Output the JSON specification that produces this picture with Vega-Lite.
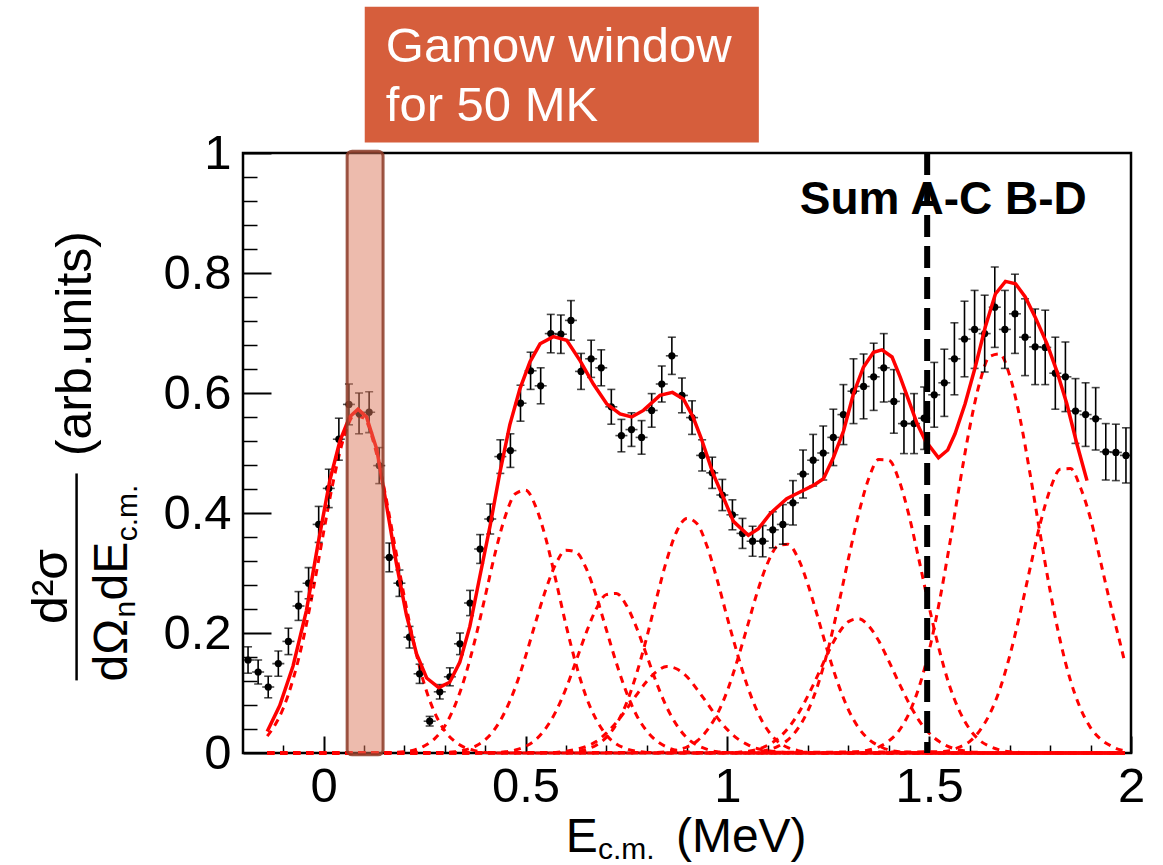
{
  "$schema": "https://vega.github.io/schema/vega-lite/v6.json",
  "width": 888,
  "height": 600,
  "autosize": {"type": "none"},
  "padding": {"left": 243, "top": 153, "right": 32, "bottom": 112},
  "background": "white",
  "config": {
    "view": {"stroke": "black", "strokeWidth": 2.5},
    "text": {"font": "Liberation Sans"}
  },
  "datasets": {
    "pts": [
      {"E": -0.1875, "y": 0.155, "err": 0.022}, {"E": -0.1625, "y": 0.135, "err": 0.02}, {"E": -0.1375, "y": 0.110, "err": 0.018},
      {"E": -0.1125, "y": 0.149, "err": 0.021}, {"E": -0.0875, "y": 0.186, "err": 0.022}, {"E": -0.0625, "y": 0.245, "err": 0.024},
      {"E": -0.0375, "y": 0.283, "err": 0.026}, {"E": -0.0125, "y": 0.381, "err": 0.03}, {"E": 0.0125, "y": 0.441, "err": 0.032},
      {"E": 0.0375, "y": 0.523, "err": 0.035}, {"E": 0.0625, "y": 0.581, "err": 0.034}, {"E": 0.0875, "y": 0.566, "err": 0.034},
      {"E": 0.1125, "y": 0.568, "err": 0.034}, {"E": 0.1375, "y": 0.479, "err": 0.03}, {"E": 0.1625, "y": 0.326, "err": 0.024},
      {"E": 0.1875, "y": 0.283, "err": 0.022}, {"E": 0.2125, "y": 0.193, "err": 0.018}, {"E": 0.2375, "y": 0.132, "err": 0.016},
      {"E": 0.2625, "y": 0.053, "err": 0.008}, {"E": 0.2875, "y": 0.102, "err": 0.012}, {"E": 0.3125, "y": 0.127, "err": 0.015},
      {"E": 0.3375, "y": 0.182, "err": 0.018}, {"E": 0.3625, "y": 0.250, "err": 0.021}, {"E": 0.3875, "y": 0.340, "err": 0.024},
      {"E": 0.4125, "y": 0.390, "err": 0.025}, {"E": 0.4375, "y": 0.494, "err": 0.028}, {"E": 0.4625, "y": 0.504, "err": 0.028},
      {"E": 0.4875, "y": 0.583, "err": 0.03}, {"E": 0.5125, "y": 0.637, "err": 0.031}, {"E": 0.5375, "y": 0.612, "err": 0.03},
      {"E": 0.5625, "y": 0.699, "err": 0.032}, {"E": 0.5875, "y": 0.698, "err": 0.032}, {"E": 0.6125, "y": 0.721, "err": 0.033},
      {"E": 0.6375, "y": 0.636, "err": 0.03}, {"E": 0.6625, "y": 0.657, "err": 0.031}, {"E": 0.6875, "y": 0.642, "err": 0.03},
      {"E": 0.7125, "y": 0.577, "err": 0.029}, {"E": 0.7375, "y": 0.529, "err": 0.027}, {"E": 0.7625, "y": 0.539, "err": 0.028},
      {"E": 0.7875, "y": 0.526, "err": 0.028}, {"E": 0.8125, "y": 0.571, "err": 0.028}, {"E": 0.8375, "y": 0.615, "err": 0.03},
      {"E": 0.8625, "y": 0.662, "err": 0.031}, {"E": 0.8875, "y": 0.596, "err": 0.029}, {"E": 0.9125, "y": 0.559, "err": 0.028},
      {"E": 0.9375, "y": 0.496, "err": 0.026}, {"E": 0.9625, "y": 0.467, "err": 0.026}, {"E": 0.9875, "y": 0.430, "err": 0.026},
      {"E": 1.0125, "y": 0.397, "err": 0.025}, {"E": 1.0375, "y": 0.366, "err": 0.025}, {"E": 1.0625, "y": 0.353, "err": 0.025},
      {"E": 1.0875, "y": 0.353, "err": 0.026}, {"E": 1.1125, "y": 0.372, "err": 0.03}, {"E": 1.1375, "y": 0.381, "err": 0.033},
      {"E": 1.1625, "y": 0.417, "err": 0.037}, {"E": 1.1875, "y": 0.465, "err": 0.04}, {"E": 1.2125, "y": 0.488, "err": 0.043},
      {"E": 1.2375, "y": 0.500, "err": 0.045}, {"E": 1.2625, "y": 0.526, "err": 0.047}, {"E": 1.2875, "y": 0.564, "err": 0.05},
      {"E": 1.3125, "y": 0.603, "err": 0.054}, {"E": 1.3375, "y": 0.611, "err": 0.054}, {"E": 1.3625, "y": 0.627, "err": 0.056},
      {"E": 1.3875, "y": 0.642, "err": 0.057}, {"E": 1.4125, "y": 0.586, "err": 0.053}, {"E": 1.4375, "y": 0.549, "err": 0.05},
      {"E": 1.4625, "y": 0.549, "err": 0.05}, {"E": 1.4875, "y": 0.558, "err": 0.052}, {"E": 1.5125, "y": 0.597, "err": 0.054},
      {"E": 1.5375, "y": 0.617, "err": 0.056}, {"E": 1.5625, "y": 0.657, "err": 0.06}, {"E": 1.5875, "y": 0.690, "err": 0.063},
      {"E": 1.6125, "y": 0.706, "err": 0.065}, {"E": 1.6375, "y": 0.699, "err": 0.064}, {"E": 1.6625, "y": 0.743, "err": 0.067},
      {"E": 1.6875, "y": 0.706, "err": 0.065}, {"E": 1.7125, "y": 0.732, "err": 0.066}, {"E": 1.7375, "y": 0.693, "err": 0.064},
      {"E": 1.7625, "y": 0.677, "err": 0.063}, {"E": 1.7875, "y": 0.676, "err": 0.062}, {"E": 1.8125, "y": 0.633, "err": 0.06},
      {"E": 1.8375, "y": 0.627, "err": 0.058}, {"E": 1.8625, "y": 0.570, "err": 0.054}, {"E": 1.8875, "y": 0.564, "err": 0.053},
      {"E": 1.9125, "y": 0.557, "err": 0.052}, {"E": 1.9375, "y": 0.502, "err": 0.047}, {"E": 1.9625, "y": 0.501, "err": 0.047},
      {"E": 1.9875, "y": 0.496, "err": 0.046}
    ],
    "fit": [
      {"E": -0.140, "v": 0.036}, {"E": -0.109, "v": 0.079}, {"E": -0.076, "v": 0.145}, {"E": -0.043, "v": 0.237},
      {"E": -0.014, "v": 0.349}, {"E": 0.015, "v": 0.454}, {"E": 0.040, "v": 0.520}, {"E": 0.064, "v": 0.560},
      {"E": 0.085, "v": 0.573}, {"E": 0.106, "v": 0.560}, {"E": 0.131, "v": 0.507}, {"E": 0.155, "v": 0.415},
      {"E": 0.180, "v": 0.316}, {"E": 0.205, "v": 0.230}, {"E": 0.230, "v": 0.165}, {"E": 0.255, "v": 0.125},
      {"E": 0.285, "v": 0.109}, {"E": 0.312, "v": 0.118}, {"E": 0.337, "v": 0.151}, {"E": 0.362, "v": 0.211},
      {"E": 0.387, "v": 0.295}, {"E": 0.412, "v": 0.378}, {"E": 0.436, "v": 0.466}, {"E": 0.461, "v": 0.547},
      {"E": 0.486, "v": 0.607}, {"E": 0.511, "v": 0.652}, {"E": 0.536, "v": 0.682}, {"E": 0.569, "v": 0.694},
      {"E": 0.602, "v": 0.688}, {"E": 0.635, "v": 0.654}, {"E": 0.668, "v": 0.615}, {"E": 0.701, "v": 0.582},
      {"E": 0.734, "v": 0.565}, {"E": 0.763, "v": 0.560}, {"E": 0.792, "v": 0.571}, {"E": 0.833, "v": 0.596},
      {"E": 0.864, "v": 0.601}, {"E": 0.891, "v": 0.590}, {"E": 0.915, "v": 0.560}, {"E": 0.935, "v": 0.525},
      {"E": 0.965, "v": 0.465}, {"E": 0.990, "v": 0.426}, {"E": 1.015, "v": 0.386}, {"E": 1.052, "v": 0.363},
      {"E": 1.077, "v": 0.374}, {"E": 1.106, "v": 0.399}, {"E": 1.147, "v": 0.424}, {"E": 1.180, "v": 0.435},
      {"E": 1.213, "v": 0.446}, {"E": 1.238, "v": 0.457}, {"E": 1.263, "v": 0.493}, {"E": 1.288, "v": 0.537},
      {"E": 1.312, "v": 0.598}, {"E": 1.337, "v": 0.643}, {"E": 1.362, "v": 0.668}, {"E": 1.383, "v": 0.672},
      {"E": 1.408, "v": 0.660}, {"E": 1.428, "v": 0.627}, {"E": 1.449, "v": 0.588}, {"E": 1.470, "v": 0.549},
      {"E": 1.490, "v": 0.521}, {"E": 1.523, "v": 0.492}, {"E": 1.546, "v": 0.505}, {"E": 1.564, "v": 0.532},
      {"E": 1.589, "v": 0.582}, {"E": 1.614, "v": 0.643}, {"E": 1.639, "v": 0.710}, {"E": 1.664, "v": 0.765},
      {"E": 1.689, "v": 0.786}, {"E": 1.714, "v": 0.782}, {"E": 1.738, "v": 0.760}, {"E": 1.763, "v": 0.726},
      {"E": 1.792, "v": 0.682}, {"E": 1.816, "v": 0.637}, {"E": 1.841, "v": 0.582}, {"E": 1.866, "v": 0.515},
      {"E": 1.891, "v": 0.454}
    ],
    "comp": [
      {"g": "1", "E": -0.14, "v": 0.028}, {"g": "1", "E": -0.125, "v": 0.042}, {"g": "1", "E": -0.1, "v": 0.075},
      {"g": "1", "E": -0.075, "v": 0.125}, {"g": "1", "E": -0.05, "v": 0.192}, {"g": "1", "E": -0.025, "v": 0.276},
      {"g": "1", "E": 0.0, "v": 0.369}, {"g": "1", "E": 0.025, "v": 0.457}, {"g": "1", "E": 0.05, "v": 0.526},
      {"g": "1", "E": 0.075, "v": 0.562}, {"g": "1", "E": 0.1, "v": 0.558}, {"g": "1", "E": 0.125, "v": 0.514},
      {"g": "1", "E": 0.15, "v": 0.440}, {"g": "1", "E": 0.175, "v": 0.350}, {"g": "1", "E": 0.2, "v": 0.259},
      {"g": "1", "E": 0.225, "v": 0.178}, {"g": "1", "E": 0.25, "v": 0.113}, {"g": "1", "E": 0.275, "v": 0.067},
      {"g": "1", "E": 0.3, "v": 0.037}, {"g": "1", "E": 0.325, "v": 0.019}, {"g": "1", "E": 0.35, "v": 0.009},
      {"g": "1", "E": 0.375, "v": 0.004}, {"g": "1", "E": 0.4, "v": 0.001}, {"g": "1", "E": 0.425, "v": 0},
      {"g": "1", "E": 1.985, "v": 0},

      {"g": "2", "E": -0.14, "v": 0}, {"g": "2", "E": 0.175, "v": 0.001}, {"g": "2", "E": 0.2, "v": 0.002},
      {"g": "2", "E": 0.225, "v": 0.005}, {"g": "2", "E": 0.25, "v": 0.012}, {"g": "2", "E": 0.275, "v": 0.024},
      {"g": "2", "E": 0.3, "v": 0.045}, {"g": "2", "E": 0.325, "v": 0.079}, {"g": "2", "E": 0.35, "v": 0.127},
      {"g": "2", "E": 0.375, "v": 0.189}, {"g": "2", "E": 0.4, "v": 0.261}, {"g": "2", "E": 0.425, "v": 0.334},
      {"g": "2", "E": 0.45, "v": 0.395}, {"g": "2", "E": 0.475, "v": 0.432}, {"g": "2", "E": 0.5, "v": 0.438},
      {"g": "2", "E": 0.525, "v": 0.411}, {"g": "2", "E": 0.55, "v": 0.358}, {"g": "2", "E": 0.575, "v": 0.288},
      {"g": "2", "E": 0.6, "v": 0.214}, {"g": "2", "E": 0.625, "v": 0.148}, {"g": "2", "E": 0.65, "v": 0.094},
      {"g": "2", "E": 0.675, "v": 0.056}, {"g": "2", "E": 0.7, "v": 0.030}, {"g": "2", "E": 0.725, "v": 0.015},
      {"g": "2", "E": 0.75, "v": 0.007}, {"g": "2", "E": 0.775, "v": 0.003}, {"g": "2", "E": 0.8, "v": 0.001},
      {"g": "2", "E": 0.825, "v": 0}, {"g": "2", "E": 1.985, "v": 0},

      {"g": "3", "E": -0.14, "v": 0}, {"g": "3", "E": 0.3, "v": 0.001}, {"g": "3", "E": 0.325, "v": 0.002},
      {"g": "3", "E": 0.35, "v": 0.005}, {"g": "3", "E": 0.375, "v": 0.011}, {"g": "3", "E": 0.4, "v": 0.022},
      {"g": "3", "E": 0.425, "v": 0.041}, {"g": "3", "E": 0.45, "v": 0.070}, {"g": "3", "E": 0.475, "v": 0.110},
      {"g": "3", "E": 0.5, "v": 0.161}, {"g": "3", "E": 0.525, "v": 0.218}, {"g": "3", "E": 0.55, "v": 0.272},
      {"g": "3", "E": 0.575, "v": 0.315}, {"g": "3", "E": 0.6, "v": 0.338}, {"g": "3", "E": 0.625, "v": 0.335},
      {"g": "3", "E": 0.65, "v": 0.308}, {"g": "3", "E": 0.675, "v": 0.262}, {"g": "3", "E": 0.7, "v": 0.206},
      {"g": "3", "E": 0.725, "v": 0.150}, {"g": "3", "E": 0.75, "v": 0.101}, {"g": "3", "E": 0.775, "v": 0.063},
      {"g": "3", "E": 0.8, "v": 0.037}, {"g": "3", "E": 0.825, "v": 0.020}, {"g": "3", "E": 0.85, "v": 0.010},
      {"g": "3", "E": 0.875, "v": 0.004}, {"g": "3", "E": 0.9, "v": 0.002}, {"g": "3", "E": 0.925, "v": 0},
      {"g": "3", "E": 1.985, "v": 0},

      {"g": "4", "E": -0.14, "v": 0}, {"g": "4", "E": 0.425, "v": 0.001}, {"g": "4", "E": 0.45, "v": 0.002},
      {"g": "4", "E": 0.475, "v": 0.005}, {"g": "4", "E": 0.5, "v": 0.011}, {"g": "4", "E": 0.525, "v": 0.022},
      {"g": "4", "E": 0.55, "v": 0.041}, {"g": "4", "E": 0.575, "v": 0.069}, {"g": "4", "E": 0.6, "v": 0.107},
      {"g": "4", "E": 0.625, "v": 0.153}, {"g": "4", "E": 0.65, "v": 0.200}, {"g": "4", "E": 0.675, "v": 0.240},
      {"g": "4", "E": 0.7, "v": 0.264}, {"g": "4", "E": 0.725, "v": 0.266}, {"g": "4", "E": 0.75, "v": 0.246},
      {"g": "4", "E": 0.775, "v": 0.209}, {"g": "4", "E": 0.8, "v": 0.163}, {"g": "4", "E": 0.825, "v": 0.116},
      {"g": "4", "E": 0.85, "v": 0.076}, {"g": "4", "E": 0.875, "v": 0.046}, {"g": "4", "E": 0.9, "v": 0.025},
      {"g": "4", "E": 0.925, "v": 0.013}, {"g": "4", "E": 0.95, "v": 0.006}, {"g": "4", "E": 0.975, "v": 0.002},
      {"g": "4", "E": 1.0, "v": 0.001}, {"g": "4", "E": 1.025, "v": 0}, {"g": "4", "E": 1.985, "v": 0},

      {"g": "5", "E": -0.14, "v": 0}, {"g": "5", "E": 0.575, "v": 0.001}, {"g": "5", "E": 0.6, "v": 0.003},
      {"g": "5", "E": 0.625, "v": 0.006}, {"g": "5", "E": 0.65, "v": 0.011}, {"g": "5", "E": 0.675, "v": 0.019},
      {"g": "5", "E": 0.7, "v": 0.033}, {"g": "5", "E": 0.725, "v": 0.051}, {"g": "5", "E": 0.75, "v": 0.073},
      {"g": "5", "E": 0.775, "v": 0.097}, {"g": "5", "E": 0.8, "v": 0.119}, {"g": "5", "E": 0.825, "v": 0.136},
      {"g": "5", "E": 0.85, "v": 0.144}, {"g": "5", "E": 0.875, "v": 0.140}, {"g": "5", "E": 0.9, "v": 0.127},
      {"g": "5", "E": 0.925, "v": 0.106}, {"g": "5", "E": 0.95, "v": 0.083}, {"g": "5", "E": 0.975, "v": 0.059},
      {"g": "5", "E": 1.0, "v": 0.039}, {"g": "5", "E": 1.025, "v": 0.024}, {"g": "5", "E": 1.05, "v": 0.014},
      {"g": "5", "E": 1.075, "v": 0.007}, {"g": "5", "E": 1.1, "v": 0.004}, {"g": "5", "E": 1.125, "v": 0.002},
      {"g": "5", "E": 1.15, "v": 0.001}, {"g": "5", "E": 1.175, "v": 0}, {"g": "5", "E": 1.985, "v": 0},

      {"g": "6", "E": -0.14, "v": 0}, {"g": "6", "E": 0.6, "v": 0.001}, {"g": "6", "E": 0.625, "v": 0.002},
      {"g": "6", "E": 0.65, "v": 0.006}, {"g": "6", "E": 0.675, "v": 0.013}, {"g": "6", "E": 0.7, "v": 0.026},
      {"g": "6", "E": 0.725, "v": 0.048}, {"g": "6", "E": 0.75, "v": 0.083}, {"g": "6", "E": 0.775, "v": 0.132},
      {"g": "6", "E": 0.8, "v": 0.192}, {"g": "6", "E": 0.825, "v": 0.259}, {"g": "6", "E": 0.85, "v": 0.322},
      {"g": "6", "E": 0.875, "v": 0.370}, {"g": "6", "E": 0.9, "v": 0.391}, {"g": "6", "E": 0.925, "v": 0.382},
      {"g": "6", "E": 0.95, "v": 0.344}, {"g": "6", "E": 0.975, "v": 0.288}, {"g": "6", "E": 1.0, "v": 0.225},
      {"g": "6", "E": 1.025, "v": 0.165}, {"g": "6", "E": 1.05, "v": 0.111}, {"g": "6", "E": 1.075, "v": 0.068},
      {"g": "6", "E": 1.1, "v": 0.038}, {"g": "6", "E": 1.125, "v": 0.019}, {"g": "6", "E": 1.15, "v": 0.009},
      {"g": "6", "E": 1.175, "v": 0.004}, {"g": "6", "E": 1.2, "v": 0.001}, {"g": "6", "E": 1.225, "v": 0},
      {"g": "6", "E": 1.985, "v": 0},

      {"g": "7", "E": -0.14, "v": 0}, {"g": "7", "E": 0.825, "v": 0.001}, {"g": "7", "E": 0.85, "v": 0.002},
      {"g": "7", "E": 0.875, "v": 0.005}, {"g": "7", "E": 0.9, "v": 0.010}, {"g": "7", "E": 0.925, "v": 0.020},
      {"g": "7", "E": 0.95, "v": 0.038}, {"g": "7", "E": 0.975, "v": 0.065}, {"g": "7", "E": 1.0, "v": 0.104},
      {"g": "7", "E": 1.025, "v": 0.155}, {"g": "7", "E": 1.05, "v": 0.212}, {"g": "7", "E": 1.075, "v": 0.270},
      {"g": "7", "E": 1.1, "v": 0.317}, {"g": "7", "E": 1.125, "v": 0.345}, {"g": "7", "E": 1.15, "v": 0.348},
      {"g": "7", "E": 1.175, "v": 0.325}, {"g": "7", "E": 1.2, "v": 0.280}, {"g": "7", "E": 1.225, "v": 0.224},
      {"g": "7", "E": 1.25, "v": 0.166}, {"g": "7", "E": 1.275, "v": 0.114}, {"g": "7", "E": 1.3, "v": 0.072},
      {"g": "7", "E": 1.325, "v": 0.042}, {"g": "7", "E": 1.35, "v": 0.023}, {"g": "7", "E": 1.375, "v": 0.012},
      {"g": "7", "E": 1.4, "v": 0.005}, {"g": "7", "E": 1.425, "v": 0.002}, {"g": "7", "E": 1.45, "v": 0.001},
      {"g": "7", "E": 1.475, "v": 0}, {"g": "7", "E": 1.985, "v": 0},

      {"g": "8", "E": -0.14, "v": 0}, {"g": "8", "E": 1.025, "v": 0.001}, {"g": "8", "E": 1.05, "v": 0.003},
      {"g": "8", "E": 1.075, "v": 0.006}, {"g": "8", "E": 1.1, "v": 0.013}, {"g": "8", "E": 1.125, "v": 0.024},
      {"g": "8", "E": 1.15, "v": 0.041}, {"g": "8", "E": 1.175, "v": 0.065}, {"g": "8", "E": 1.2, "v": 0.096},
      {"g": "8", "E": 1.225, "v": 0.131}, {"g": "8", "E": 1.25, "v": 0.168}, {"g": "8", "E": 1.275, "v": 0.199},
      {"g": "8", "E": 1.3, "v": 0.219}, {"g": "8", "E": 1.325, "v": 0.224}, {"g": "8", "E": 1.35, "v": 0.212},
      {"g": "8", "E": 1.375, "v": 0.187}, {"g": "8", "E": 1.4, "v": 0.153}, {"g": "8", "E": 1.425, "v": 0.117},
      {"g": "8", "E": 1.45, "v": 0.083}, {"g": "8", "E": 1.475, "v": 0.054}, {"g": "8", "E": 1.5, "v": 0.033},
      {"g": "8", "E": 1.525, "v": 0.019}, {"g": "8", "E": 1.55, "v": 0.010}, {"g": "8", "E": 1.575, "v": 0.005},
      {"g": "8", "E": 1.6, "v": 0.002}, {"g": "8", "E": 1.625, "v": 0.001}, {"g": "8", "E": 1.65, "v": 0},
      {"g": "8", "E": 1.985, "v": 0},

      {"g": "9", "E": -0.14, "v": 0}, {"g": "9", "E": 1.05, "v": 0.001}, {"g": "9", "E": 1.075, "v": 0.002},
      {"g": "9", "E": 1.1, "v": 0.005}, {"g": "9", "E": 1.125, "v": 0.011}, {"g": "9", "E": 1.15, "v": 0.022},
      {"g": "9", "E": 1.175, "v": 0.041}, {"g": "9", "E": 1.2, "v": 0.071}, {"g": "9", "E": 1.225, "v": 0.115},
      {"g": "9", "E": 1.25, "v": 0.174}, {"g": "9", "E": 1.275, "v": 0.246}, {"g": "9", "E": 1.3, "v": 0.324},
      {"g": "9", "E": 1.325, "v": 0.398}, {"g": "9", "E": 1.35, "v": 0.457}, {"g": "9", "E": 1.375, "v": 0.489},
      {"g": "9", "E": 1.4, "v": 0.488}, {"g": "9", "E": 1.425, "v": 0.455}, {"g": "9", "E": 1.45, "v": 0.396},
      {"g": "9", "E": 1.475, "v": 0.321}, {"g": "9", "E": 1.5, "v": 0.243}, {"g": "9", "E": 1.525, "v": 0.172},
      {"g": "9", "E": 1.55, "v": 0.113}, {"g": "9", "E": 1.575, "v": 0.070}, {"g": "9", "E": 1.6, "v": 0.040},
      {"g": "9", "E": 1.625, "v": 0.021}, {"g": "9", "E": 1.65, "v": 0.011}, {"g": "9", "E": 1.675, "v": 0.005},
      {"g": "9", "E": 1.7, "v": 0.002}, {"g": "9", "E": 1.725, "v": 0.001}, {"g": "9", "E": 1.75, "v": 0},
      {"g": "9", "E": 1.985, "v": 0},

      {"g": "10", "E": -0.14, "v": 0}, {"g": "10", "E": 1.3, "v": 0.001}, {"g": "10", "E": 1.325, "v": 0.002},
      {"g": "10", "E": 1.35, "v": 0.005}, {"g": "10", "E": 1.375, "v": 0.010}, {"g": "10", "E": 1.4, "v": 0.020},
      {"g": "10", "E": 1.425, "v": 0.037}, {"g": "10", "E": 1.45, "v": 0.066}, {"g": "10", "E": 1.475, "v": 0.110},
      {"g": "10", "E": 1.5, "v": 0.171}, {"g": "10", "E": 1.525, "v": 0.251}, {"g": "10", "E": 1.55, "v": 0.345},
      {"g": "10", "E": 1.575, "v": 0.446}, {"g": "10", "E": 1.6, "v": 0.541}, {"g": "10", "E": 1.625, "v": 0.617},
      {"g": "10", "E": 1.65, "v": 0.661}, {"g": "10", "E": 1.675, "v": 0.665}, {"g": "10", "E": 1.7, "v": 0.628},
      {"g": "10", "E": 1.725, "v": 0.558}, {"g": "10", "E": 1.75, "v": 0.465}, {"g": "10", "E": 1.775, "v": 0.365},
      {"g": "10", "E": 1.8, "v": 0.269}, {"g": "10", "E": 1.825, "v": 0.186}, {"g": "10", "E": 1.85, "v": 0.121},
      {"g": "10", "E": 1.875, "v": 0.074}, {"g": "10", "E": 1.9, "v": 0.042}, {"g": "10", "E": 1.925, "v": 0.023},
      {"g": "10", "E": 1.95, "v": 0.012}, {"g": "10", "E": 1.975, "v": 0.005}, {"g": "10", "E": 1.985, "v": 0.004},

      {"g": "11", "E": -0.14, "v": 0}, {"g": "11", "E": 1.525, "v": 0.002}, {"g": "11", "E": 1.55, "v": 0.004},
      {"g": "11", "E": 1.575, "v": 0.010}, {"g": "11", "E": 1.6, "v": 0.019}, {"g": "11", "E": 1.625, "v": 0.037},
      {"g": "11", "E": 1.65, "v": 0.065}, {"g": "11", "E": 1.675, "v": 0.106}, {"g": "11", "E": 1.7, "v": 0.163},
      {"g": "11", "E": 1.725, "v": 0.232}, {"g": "11", "E": 1.75, "v": 0.308}, {"g": "11", "E": 1.775, "v": 0.382},
      {"g": "11", "E": 1.8, "v": 0.440}, {"g": "11", "E": 1.825, "v": 0.473}, {"g": "11", "E": 1.85, "v": 0.474},
      {"g": "11", "E": 1.875, "v": 0.442}, {"g": "11", "E": 1.9, "v": 0.390}, {"g": "11", "E": 1.925, "v": 0.318},
      {"g": "11", "E": 1.95, "v": 0.245}, {"g": "11", "E": 1.975, "v": 0.178}, {"g": "11", "E": 1.985, "v": 0.150}
    ]
  },
  "resolve": {"axis": {"x": "independent", "y": "independent"}},
  "layer": [
    {
      "data": {"name": "comp"},
      "mark": {"type": "line", "color": "#ff0000", "strokeWidth": 3, "strokeDash": [7, 6], "interpolate": "monotone"},
      "encoding": {
        "x": {"field": "E", "type": "quantitative", "scale": {"domain": [-0.2, 2], "nice": false, "zero": false}, "axis": null},
        "y": {"field": "v", "type": "quantitative", "scale": {"domain": [0, 1], "nice": false, "zero": false}, "axis": null},
        "detail": {"field": "g"}
      }
    },
    {
      "data": {"name": "pts"},
      "mark": {"type": "errorbar", "ticks": {"size": 8, "thickness": 1.6, "color": "black"}, "rule": {"color": "black", "strokeWidth": 1.6}},
      "encoding": {
        "x": {"field": "E", "type": "quantitative", "scale": {"domain": [-0.2, 2], "nice": false, "zero": false}, "axis": null},
        "y": {"field": "y", "type": "quantitative", "scale": {"domain": [0, 1], "nice": false, "zero": false}, "axis": null},
        "yError": {"field": "err"}
      }
    },
    {
      "data": {"name": "pts"},
      "mark": {"type": "tick", "orient": "horizontal", "size": 12, "thickness": 1.6, "color": "black"},
      "encoding": {
        "x": {"field": "E", "type": "quantitative", "scale": {"domain": [-0.2, 2], "nice": false, "zero": false}, "axis": null},
        "y": {"field": "y", "type": "quantitative", "scale": {"domain": [0, 1], "nice": false, "zero": false}, "axis": null}
      }
    },
    {
      "data": {"name": "pts"},
      "mark": {"type": "circle", "size": 52, "color": "black", "opacity": 1},
      "encoding": {
        "x": {"field": "E", "type": "quantitative", "scale": {"domain": [-0.2, 2], "nice": false, "zero": false},
          "axis": {"orient": "bottom", "values": [0, 0.5, 1, 1.5, 2], "format": "~g", "tickSize": -17, "tickWidth": 2, "tickColor": "black",
            "domain": false, "grid": false, "title": null, "labelFont": "Liberation Sans", "labelFontSize": 49, "labelColor": "black",
            "labelPadding": 26, "labelFlush": false, "labelOverlap": false, "labelBound": false}},
        "y": {"field": "y", "type": "quantitative", "scale": {"domain": [0, 1], "nice": false, "zero": false},
          "axis": {"orient": "left", "values": [0, 0.2, 0.4, 0.6, 0.8, 1], "format": "~g", "tickSize": -28, "tickWidth": 2, "tickColor": "black",
            "domain": false, "grid": false, "title": null, "labelFont": "Liberation Sans", "labelFontSize": 49, "labelColor": "black",
            "labelPadding": 40, "labelFlush": false, "labelOverlap": false, "labelBound": false, "labelBaseline": "middle"}}
      }
    },
    {
      "data": {"name": "fit"},
      "mark": {"type": "line", "color": "#ff0000", "strokeWidth": 3.5},
      "encoding": {
        "x": {"field": "E", "type": "quantitative", "scale": {"domain": [-0.2, 2], "nice": false, "zero": false},
          "axis": {"orient": "bottom", "values": [-0.1, 0.1, 0.2, 0.3, 0.4, 0.6, 0.7, 0.8, 0.9, 1.1, 1.2, 1.3, 1.4, 1.6, 1.7, 1.8, 1.9],
            "tickSize": -8, "tickWidth": 1.5, "tickColor": "black", "labels": false, "domain": false, "grid": false, "title": null}},
        "y": {"field": "v", "type": "quantitative", "scale": {"domain": [0, 1], "nice": false, "zero": false},
          "axis": {"orient": "left", "values": [0.04, 0.08, 0.12, 0.16, 0.24, 0.28, 0.32, 0.36, 0.44, 0.48, 0.52, 0.56, 0.64, 0.68, 0.72, 0.76, 0.84, 0.88, 0.92, 0.96],
            "tickSize": -14, "tickWidth": 1.5, "tickColor": "black", "labels": false, "domain": false, "grid": false, "title": null}}
      }
    },
    {
      "data": {"values": [{}]},
      "mark": {"type": "rule", "color": "black", "strokeWidth": 6, "strokeDash": [22, 9]},
      "encoding": {
        "x": {"datum": 1.495, "type": "quantitative", "scale": {"domain": [-0.2, 2], "nice": false, "zero": false}, "axis": null},
        "y": {"datum": 1, "type": "quantitative", "scale": {"domain": [0, 1], "nice": false, "zero": false}, "axis": null},
        "y2": {"datum": 0}
      }
    },
    {
      "data": {"values": [{}]},
      "mark": {"type": "rect", "fill": "#DC785C", "fillOpacity": 0.5, "stroke": "#8B3A26", "strokeWidth": 3, "strokeOpacity": 0.85, "cornerRadius": 5},
      "encoding": {
        "x": {"datum": 0.058, "type": "quantitative", "scale": {"domain": [-0.2, 2], "nice": false, "zero": false}, "axis": null},
        "x2": {"datum": 0.147},
        "y": {"datum": -0.003, "type": "quantitative", "scale": {"domain": [0, 1], "nice": false, "zero": false}, "axis": null},
        "y2": {"datum": 1.003}
      }
    },
    {
      "data": {"values": [{}]},
      "mark": {"type": "text", "text": "Sum A-C B-D", "font": "Liberation Sans", "fontWeight": "bold", "fontSize": 46, "align": "center", "baseline": "alphabetic", "color": "black"},
      "encoding": {
        "x": {"datum": 1.535, "type": "quantitative", "scale": {"domain": [-0.2, 2], "nice": false, "zero": false}, "axis": null},
        "y": {"datum": 0.8985, "type": "quantitative", "scale": {"domain": [0, 1], "nice": false, "zero": false}, "axis": null}
      }
    },
    {
      "data": {"values": [{}]},
      "mark": {"type": "rect", "fill": "#D65E3C"},
      "encoding": {
        "x": {"datum": 0.1016, "type": "quantitative", "scale": {"domain": [-0.2, 2], "nice": false, "zero": false}, "axis": null},
        "x2": {"datum": 1.078},
        "y": {"datum": 1.0173, "type": "quantitative", "scale": {"domain": [0, 1], "nice": false, "zero": false}, "axis": null},
        "y2": {"datum": 1.2439}
      }
    },
    {
      "data": {"values": [{}]},
      "mark": {"type": "text", "text": "Gamow window", "fontSize": 49, "align": "left", "baseline": "alphabetic", "color": "white"},
      "encoding": {
        "x": {"datum": 0.1537, "type": "quantitative", "scale": {"domain": [-0.2, 2], "nice": false, "zero": false}, "axis": null},
        "y": {"datum": 1.151, "type": "quantitative", "scale": {"domain": [0, 1], "nice": false, "zero": false}, "axis": null}
      }
    },
    {
      "data": {"values": [{}]},
      "mark": {"type": "text", "text": "for 50 MK", "fontSize": 49, "align": "left", "baseline": "alphabetic", "color": "white"},
      "encoding": {
        "x": {"datum": 0.1537, "type": "quantitative", "scale": {"domain": [-0.2, 2], "nice": false, "zero": false}, "axis": null},
        "y": {"datum": 1.054, "type": "quantitative", "scale": {"domain": [0, 1], "nice": false, "zero": false}, "axis": null}
      }
    },
    {
      "data": {"values": [{}]},
      "mark": {"type": "text", "text": "E", "fontSize": 48, "align": "left", "baseline": "alphabetic", "color": "black"},
      "encoding": {
        "x": {"datum": 0.5999, "type": "quantitative", "scale": {"domain": [-0.2, 2], "nice": false, "zero": false}, "axis": null},
        "y": {"datum": -0.1656, "type": "quantitative", "scale": {"domain": [0, 1], "nice": false, "zero": false}, "axis": null}
      }
    },
    {
      "data": {"values": [{}]},
      "mark": {"type": "text", "text": "c.m.", "fontSize": 30, "align": "left", "baseline": "alphabetic", "color": "black"},
      "encoding": {
        "x": {"datum": 0.6792, "type": "quantitative", "scale": {"domain": [-0.2, 2], "nice": false, "zero": false}, "axis": null},
        "y": {"datum": -0.1773, "type": "quantitative", "scale": {"domain": [0, 1], "nice": false, "zero": false}, "axis": null}
      }
    },
    {
      "data": {"values": [{}]},
      "mark": {"type": "text", "text": "(MeV)", "fontSize": 48, "align": "left", "baseline": "alphabetic", "color": "black"},
      "encoding": {
        "x": {"datum": 0.8726, "type": "quantitative", "scale": {"domain": [-0.2, 2], "nice": false, "zero": false}, "axis": null},
        "y": {"datum": -0.1656, "type": "quantitative", "scale": {"domain": [0, 1], "nice": false, "zero": false}, "axis": null}
      }
    },
    {
      "data": {"values": [{}]},
      "mark": {"type": "text", "text": "(arb.units)", "fontSize": 50, "angle": 270, "align": "center", "baseline": "alphabetic", "color": "black"},
      "encoding": {
        "x": {"datum": -0.5776, "type": "quantitative", "scale": {"domain": [-0.2, 2], "nice": false, "zero": false}, "axis": null},
        "y": {"datum": 0.6824, "type": "quantitative", "scale": {"domain": [0, 1], "nice": false, "zero": false}, "axis": null}
      }
    },
    {
      "data": {"values": [{}]},
      "mark": {"type": "text", "text": "d²σ", "fontSize": 50, "angle": 270, "align": "center", "baseline": "alphabetic", "color": "black"},
      "encoding": {
        "x": {"datum": -0.6371, "type": "quantitative", "scale": {"domain": [-0.2, 2], "nice": false, "zero": false}, "axis": null},
        "y": {"datum": 0.2776, "type": "quantitative", "scale": {"domain": [0, 1], "nice": false, "zero": false}, "axis": null}
      }
    },
    {
      "data": {"values": [{}]},
      "mark": {"type": "rule", "color": "black", "strokeWidth": 2.5},
      "encoding": {
        "x": {"datum": -0.6123, "type": "quantitative", "scale": {"domain": [-0.2, 2], "nice": false, "zero": false}, "axis": null},
        "y": {"datum": 0.4659, "type": "quantitative", "scale": {"domain": [0, 1], "nice": false, "zero": false}, "axis": null},
        "y2": {"datum": 0.121}
      }
    },
    {
      "data": {"values": [{}]},
      "mark": {"type": "text", "text": "dΩ", "fontSize": 48, "angle": 270, "align": "left", "baseline": "alphabetic", "color": "black"},
      "encoding": {
        "x": {"datum": -0.4884, "type": "quantitative", "scale": {"domain": [-0.2, 2], "nice": false, "zero": false}, "axis": null},
        "y": {"datum": 0.1193, "type": "quantitative", "scale": {"domain": [0, 1], "nice": false, "zero": false}, "axis": null}
      }
    },
    {
      "data": {"values": [{}]},
      "mark": {"type": "text", "text": "n", "fontSize": 30, "angle": 270, "align": "left", "baseline": "alphabetic", "color": "black"},
      "encoding": {
        "x": {"datum": -0.4685, "type": "quantitative", "scale": {"domain": [-0.2, 2], "nice": false, "zero": false}, "axis": null},
        "y": {"datum": 0.2259, "type": "quantitative", "scale": {"domain": [0, 1], "nice": false, "zero": false}, "axis": null}
      }
    },
    {
      "data": {"values": [{}]},
      "mark": {"type": "text", "text": "dE", "fontSize": 48, "angle": 270, "align": "left", "baseline": "alphabetic", "color": "black"},
      "encoding": {
        "x": {"datum": -0.4884, "type": "quantitative", "scale": {"domain": [-0.2, 2], "nice": false, "zero": false}, "axis": null},
        "y": {"datum": 0.2542, "type": "quantitative", "scale": {"domain": [0, 1], "nice": false, "zero": false}, "axis": null}
      }
    },
    {
      "data": {"values": [{}]},
      "mark": {"type": "text", "text": "c.m.", "fontSize": 30, "angle": 270, "align": "left", "baseline": "alphabetic", "color": "black"},
      "encoding": {
        "x": {"datum": -0.4636, "type": "quantitative", "scale": {"domain": [-0.2, 2], "nice": false, "zero": false}, "axis": null},
        "y": {"datum": 0.3528, "type": "quantitative", "scale": {"domain": [0, 1], "nice": false, "zero": false}, "axis": null}
      }
    }
  ]
}
